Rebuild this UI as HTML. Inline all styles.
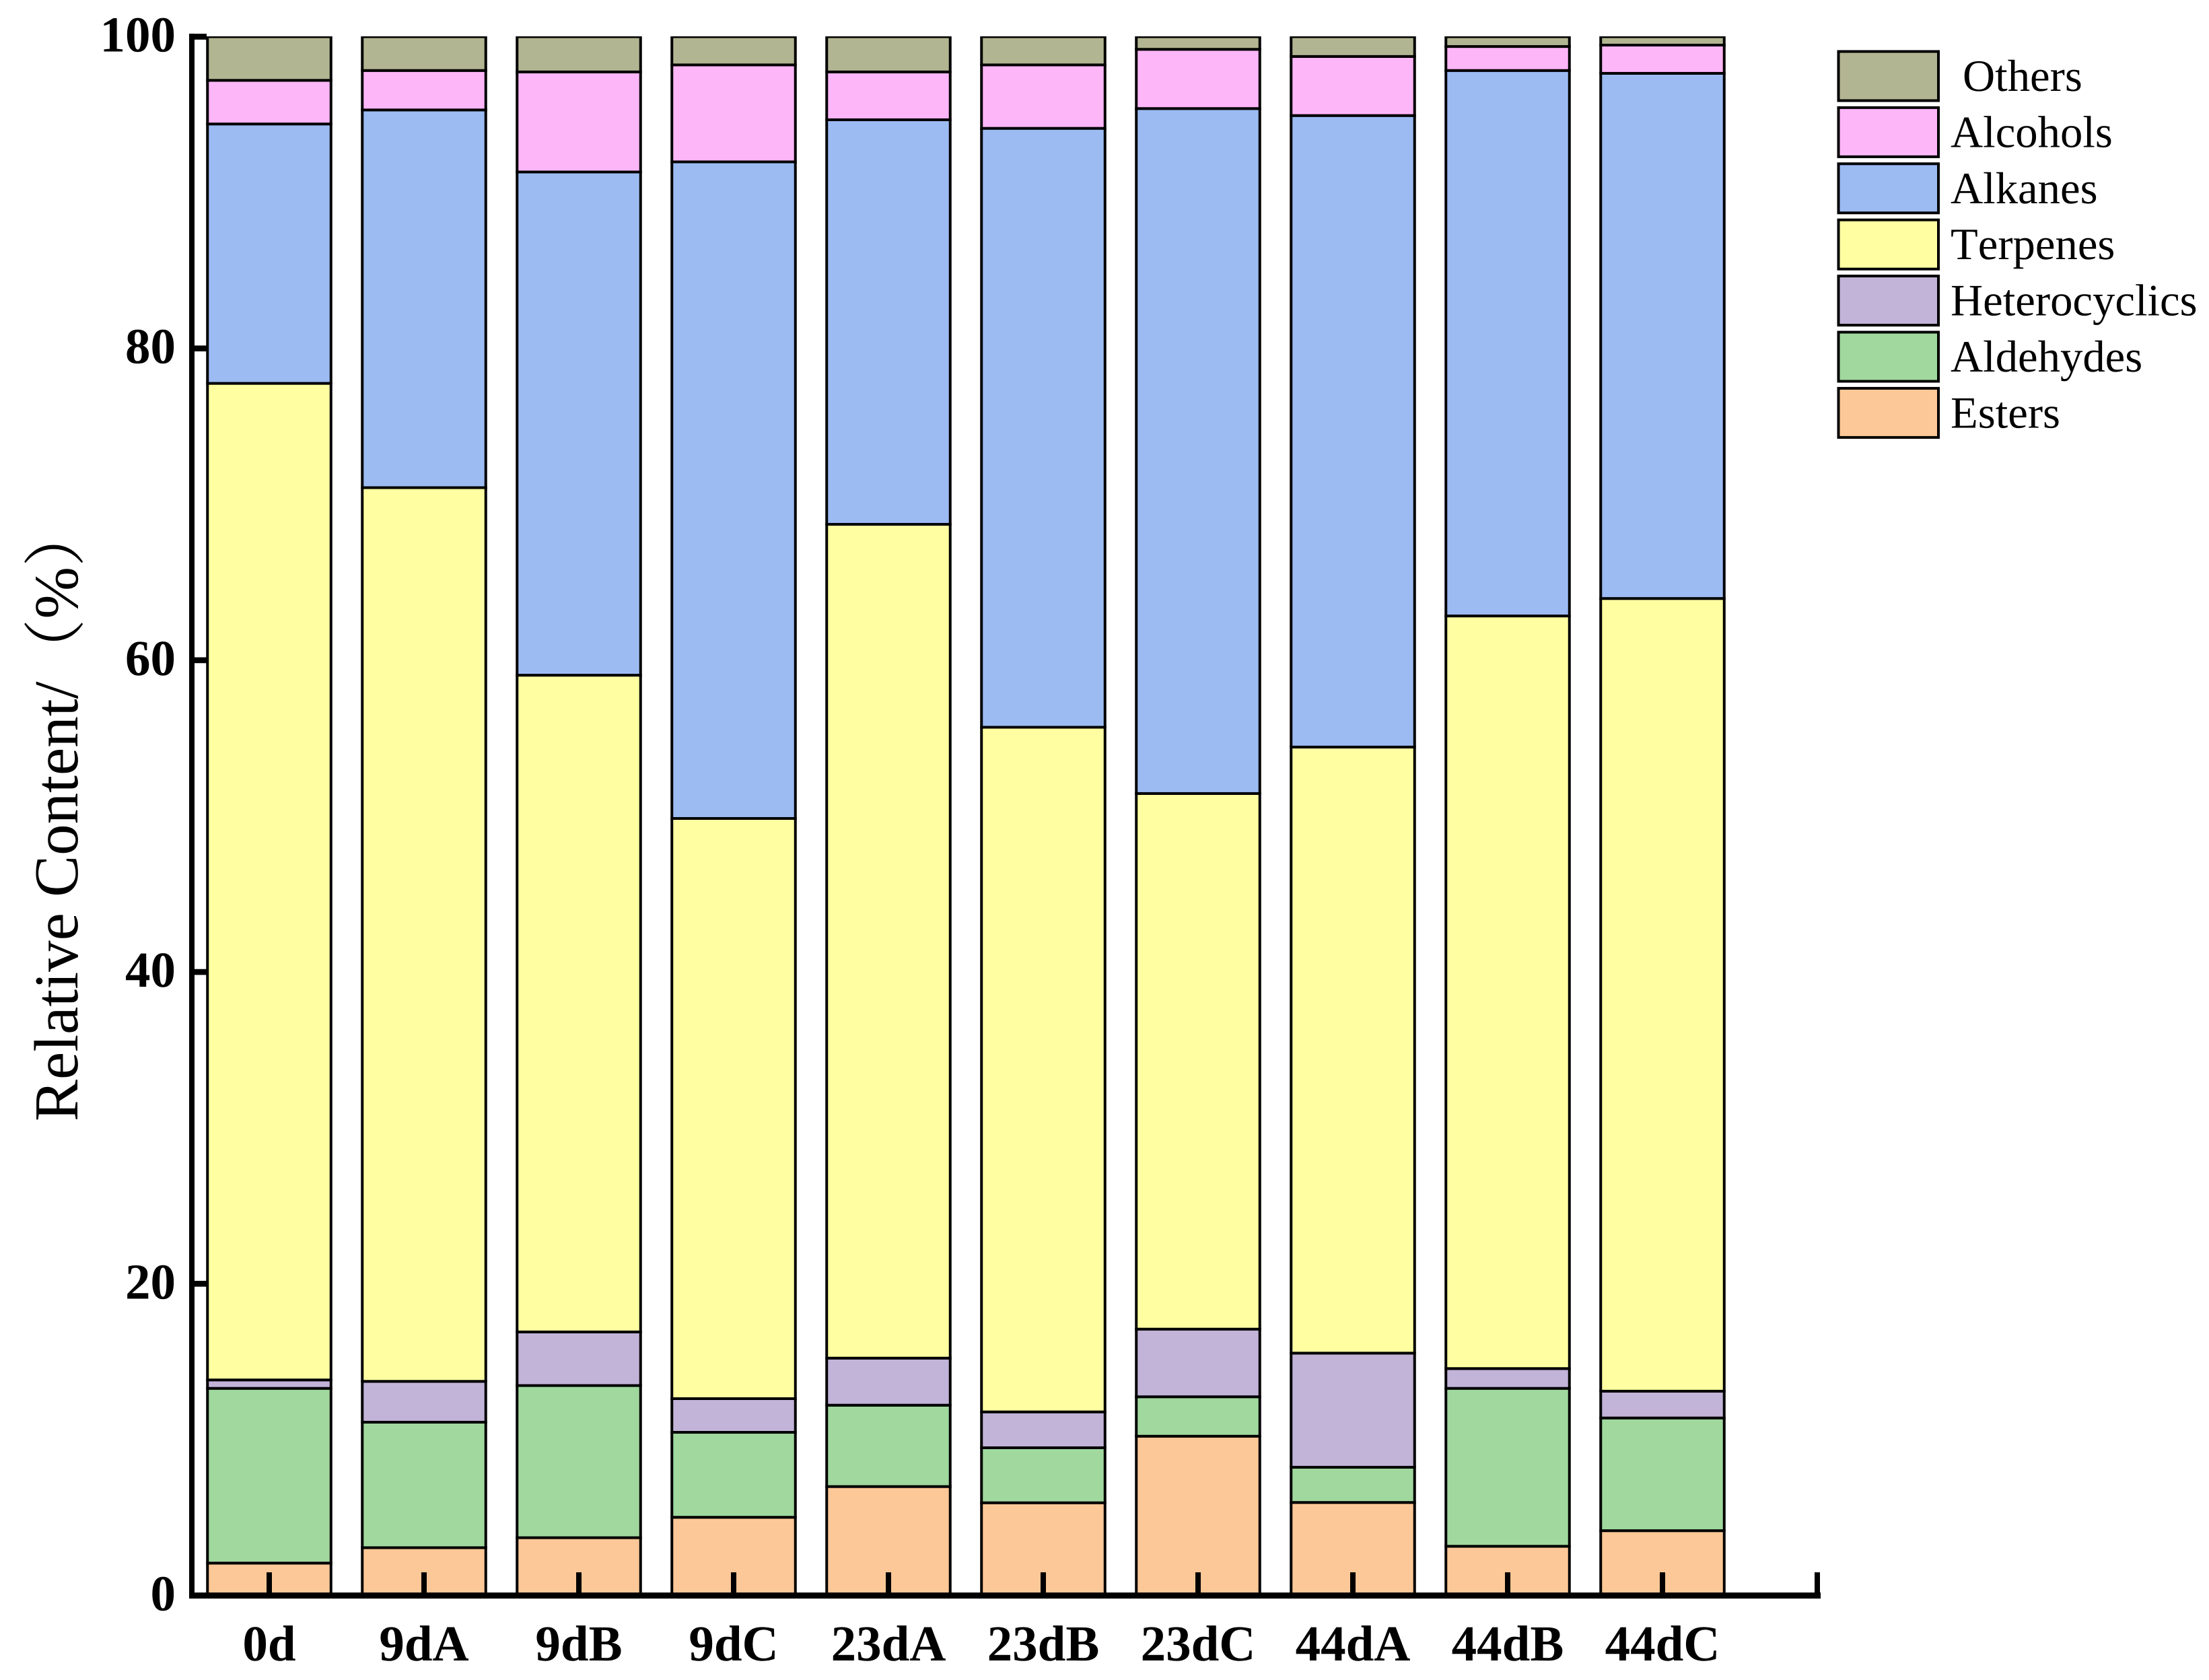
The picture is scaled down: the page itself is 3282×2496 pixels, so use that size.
<!DOCTYPE html>
<html lang="en">
<head>
<meta charset="utf-8">
<title>Relative content stacked bars</title>
<style>
  html, body { margin: 0; padding: 0; background: #fff; }
  svg { display: block; }
  text { font-family: "Liberation Serif", "Noto Serif CJK SC", serif; fill: #000; text-rendering: geometricPrecision; font-kerning: none; }
</style>
</head>
<body>
<svg id="chart" xmlns="http://www.w3.org/2000/svg" width="3282" height="2496" viewBox="0 0 3282 2496"></svg>
<script>
const categories = ["0d", "9dA", "9dB", "9dC", "23dA", "23dB", "23dC", "44dA", "44dB", "44dC"];
const yTicks = [0, 20, 40, 60, 80, 100];
const esters       = [2.08, 3.07, 3.71, 5.02, 6.99, 5.95, 10.22, 5.97, 3.16, 4.16];
const aldehydes    = [11.21, 8.05, 9.76, 5.45, 5.22, 3.53, 2.53, 2.26, 10.13, 7.23];
const heterocyclics = [0.54, 2.62, 3.44, 2.16, 3.02, 2.30, 4.34, 7.32, 1.27, 1.72];
const terpenes     = [63.93, 57.33, 42.13, 37.22, 53.49, 43.92, 34.36, 38.88, 48.28, 50.85];
const alkanes      = [16.64, 24.23, 32.28, 42.12, 25.95, 38.42, 43.94, 40.51, 34.99, 33.69];
const alcohols     = [2.80, 2.53, 6.42, 6.22, 3.07, 4.07, 3.80, 3.79, 1.54, 1.81];
const others       = [2.80, 2.17, 2.26, 1.81, 2.26, 1.81, 0.81, 1.27, 0.63, 0.54];
const seriesNames  = ["Esters", "Aldehydes", "Heterocyclics", "Terpenes", "Alkanes", "Alcohols", "Others"];
const seriesValues = [esters, aldehydes, heterocyclics, terpenes, alkanes, alcohols, others];
const seriesColors = ["#FDC897", "#A0D89E", "#C2B3D8", "#FFFFA2", "#9CBBF3", "#FDB6F8", "#B2B591"];

const svgNS = "http://www.w3.org/2000/svg";
const svg = document.getElementById("chart");

function xAxis(i) { return 400 + 230 * i; }
function yAxis(v) { return 2370.5 - 23.16 * v; }

function make(tag, attrs, parent) {
  const el = document.createElementNS(svgNS, tag);
  for (const k in attrs) el.setAttribute(k, attrs[k]);
  (parent || svg).appendChild(el);
  return el;
}

const defs = make("defs", {});
const clip = make("clipPath", { id: "plot-clip" }, defs);
make("rect", { x: 289, y: 54, width: 2420, height: 2316 }, clip);

const barsGroup = make("g", { "clip-path": "url(#plot-clip)" });



const barWidth = 183.5;
categories.forEach(function (cat, i) {
  let cumulative = 0;
  const segments = seriesValues.map(function (vals) { return vals[i]; });
  segments.forEach(function (val, s) {
    const top = cumulative + val;
    const isLast = s === segments.length - 1;
    const rect = make("rect", {
      x: xAxis(i) - barWidth / 2,
      y: yAxis(isLast ? Math.max(top, 100) : top),
      width: barWidth,
      height: yAxis(cumulative) - yAxis(isLast ? Math.max(top, 100) : top),
      fill: seriesColors[s],
      stroke: "#000",
      "stroke-width": 4
    }, barsGroup);
    
    
    cumulative = top;
  });
});

const yAxisLine = make("rect", { x: 281, y: 50, width: 8, height: 2325, fill: "#000" });



const xAxisLine = make("rect", { x: 281, y: 2366, width: 2424, height: 9, fill: "#000" });



yTicks.forEach(function (t) {
  const mark = make("rect", { x: 281, y: yAxis(t) - 4.35, width: 26, height: 8.7, fill: "#000" });
  
  
  const label = make("text", { x: 261, y: yAxis(t) + 22, "text-anchor": "end", "font-size": 75, "font-weight": "bold" });
  label.textContent = String(t);
  
  
});

categories.forEach(function (cat, i) {
  const mark = make("rect", { x: xAxis(i) - 4, y: 2336, width: 8, height: 30, fill: "#000" });
  
  
  const label = make("text", { x: xAxis(i), y: 2467, "text-anchor": "middle", "font-size": 75, "font-weight": "bold" });
  label.textContent = cat;
  
  
});
const endTick = make("rect", { x: xAxis(categories.length) - 4, y: 2336, width: 8, height: 30, fill: "#000" });



const title = make("text", { transform: "translate(115 1666) rotate(-90)", "font-size": 93 });
title.textContent = "Relative Content/\uFF08%\uFF09";



seriesNames.slice().reverse().forEach(function (name, r) {
  const colorIndex = seriesNames.indexOf(name);
  const swatch = make("rect", {
    x: 2731.5,
    y: 76.5 + 83.4 * r,
    width: 148.5,
    height: 73,
    fill: seriesColors[colorIndex],
    stroke: "#000",
    "stroke-width": 4
  });
  
  
  const label = make("text", { x: name === "Others" ? 2916 : 2898, y: 135 + 83.4 * r, "font-size": 66.7 });
  label.textContent = name;
  
  
});
</script>
</body>
</html>
